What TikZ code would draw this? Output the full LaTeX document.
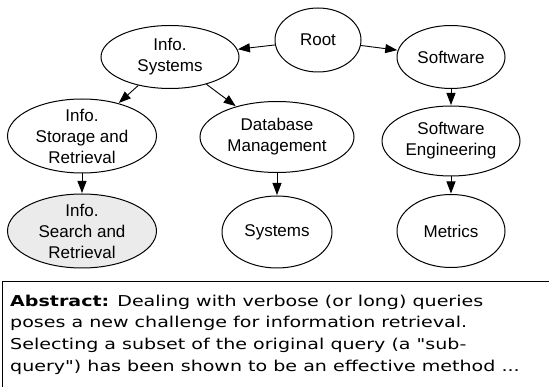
\documentclass[tikz,border=0pt]{standalone}
\usepackage{fontspec}
\setmainfont{Liberation Sans}
\newfontfamily\absfont[FakeStretch=1.27]{DejaVu Sans}
\usetikzlibrary{shapes.geometric,arrows.meta}
\begin{document}
\begin{tikzpicture}[x=1pt,y=-1pt,
  ell/.style={draw,ellipse,line width=1pt,inner sep=0pt},
  lbl/.style={align=center,font=\fontsize{17}{21}\selectfont,inner sep=0pt},
  arr/.style={line width=0.9pt,-{Triangle[length=12pt,width=9pt]},shorten >=0.5pt},
  absline/.style={anchor=base west,inner sep=0pt,font=\absfont\fontsize{15}{21.5}\selectfont}]
\useasboundingbox (0,0) rectangle (549,387);
\clip (0,0) rectangle (549,387);
\node[ell,minimum width=86,minimum height=64,label={[lbl]center:Root}] (root) at (318,40) {};
\node[ell,minimum width=138,minimum height=63,label={[lbl]center:Info.\\Systems}] (is) at (170,57) {};
\node[ell,minimum width=108,minimum height=63,label={[lbl]center:Software}] (sw) at (451,57) {};
\node[ell,minimum width=149,minimum height=74,label={[lbl]center:Info.\\Storage and\\Retrieval}] (isr) at (82,136) {};
\node[ell,minimum width=154,minimum height=71,label={[lbl]center:Database\\Management}] (db) at (277,137) {};
\node[ell,minimum width=138,minimum height=70,label={[lbl]center:Software\\Engineering}] (se) at (451,141) {};
\node[ell,fill={rgb,255:red,235;green,235;blue,235},minimum width=149,minimum height=74,label={[lbl]center:Info.\\Search and\\Retrieval}] (isrch) at (82,231) {};
\node[ell,minimum width=110,minimum height=72,label={[lbl]center:Systems}] (sys) at (277,232) {};
\node[ell,minimum width=108,minimum height=73,label={[lbl]center:Metrics}] (met) at (451,231) {};
\draw[arr] (root) -- (is);
\draw[arr] (root) -- (sw);
\draw[arr] (is) -- (isr);
\draw[arr] (is) -- (db);
\draw[arr] (sw) -- (se);
\draw[arr] (se) -- (met);
\draw[arr] (isr) -- (isrch);
\draw[arr] (db) -- (sys);
\draw[line width=1pt] (2.5,282) rectangle (600,450);
\node[absline] (a1) at (10,306.5) {\textbf{Abstract:} Dealing with verbose (or long) queries};
\node[absline] (a2) at (10,328) {poses a new challenge for information retrieval.};
\node[absline] (a3) at (10,349.5) {Selecting a subset of the original query (a "sub-};
\node[absline] (a4) at (10,371) {query") has been shown to be an effective method ...};
\end{tikzpicture}
\end{document}
